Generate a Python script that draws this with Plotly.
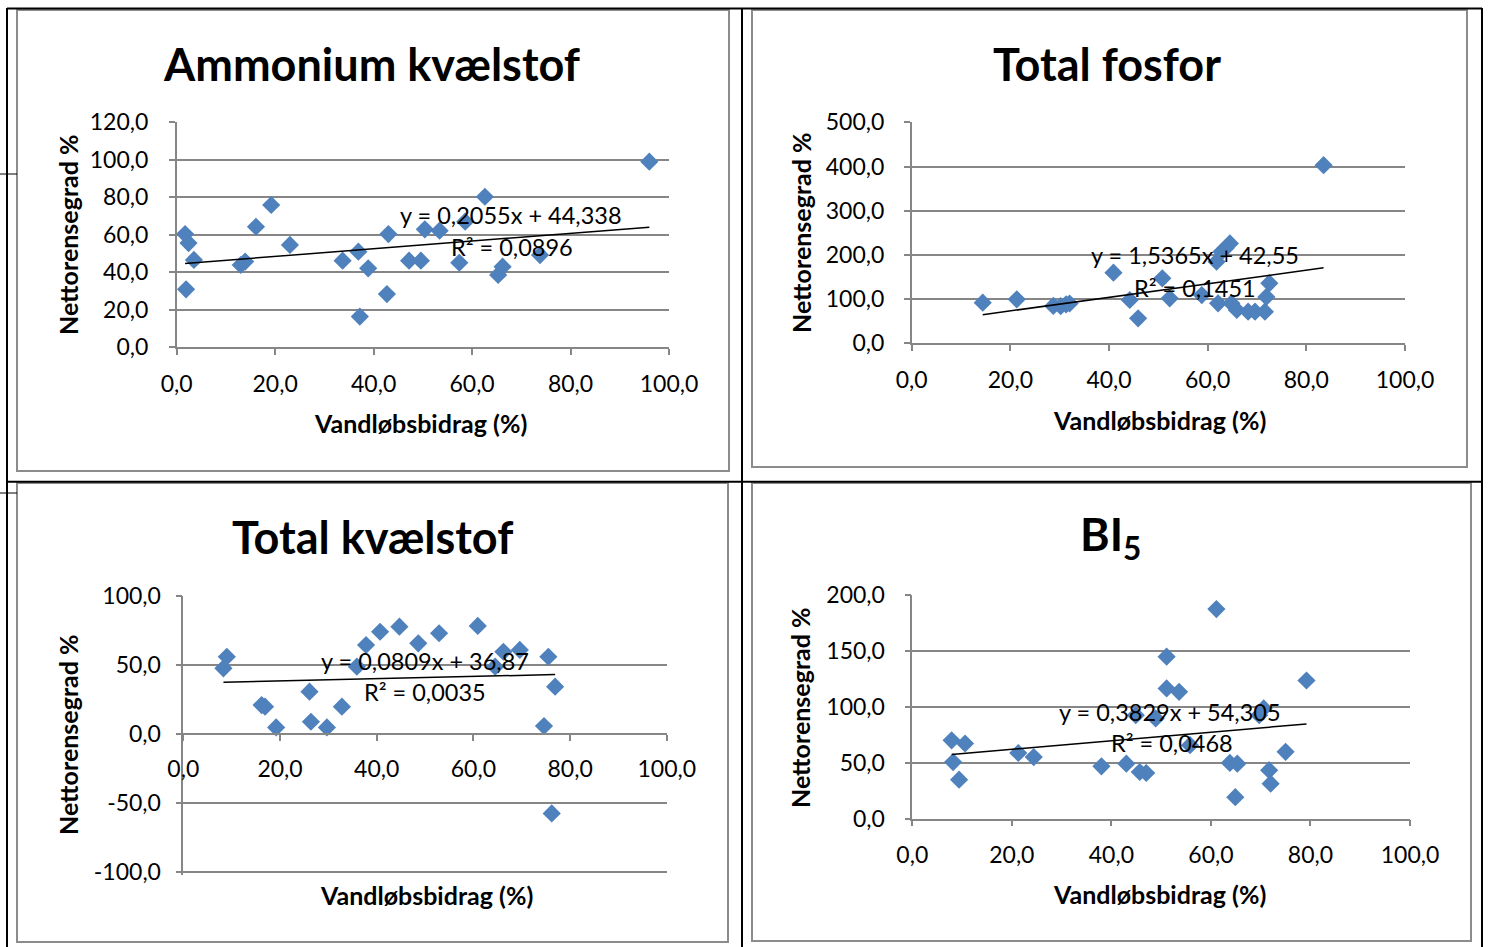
import plotly.graph_objects as go

W, H = 1488, 947


def px(x):
    return x / W


def py(y):
    return 1 - y / H


FONT = "Lato"
BLUE = "#4F81BD"
GRID = "#868686"

# ---------------- data ----------------
amm_x = [1.7, 2.4, 3.5, 1.9, 13.0, 13.9, 16.1, 19.2, 23.0, 33.7, 36.9, 37.2, 38.9,
         42.7, 43.0, 47.2, 49.6, 50.4, 53.4, 57.4, 58.6, 62.6, 65.3, 66.2, 73.8, 96.0]
amm_y = [60.4, 55.6, 46.6, 30.9, 43.9, 45.7, 64.3, 75.9, 54.6, 46.2, 51.0, 16.4, 42.1,
         28.4, 60.4, 46.2, 46.2, 62.9, 62.2, 45.1, 67.0, 80.3, 38.6, 43.0, 49.2, 99.0]
amm_coef = (0.2055, 44.338)
amm_eq = "y = 0,2055x + 44,338"
amm_r2 = "R² = 0,0896"

fos_x = [14.4, 21.3, 28.7, 30.2, 31.3, 32.0, 40.9, 44.2, 45.9, 50.8, 52.3, 58.8,
         61.8, 62.8, 63.6, 64.5, 62.1, 64.8, 65.9, 68.2, 69.6, 71.6, 71.9, 72.5, 83.5]
fos_y = [91.9, 99.5, 84.5, 84.0, 88.0, 90.0, 159.7, 98.0, 56.6, 147.0, 101.8, 109.0,
         184.6, 207.0, 215.0, 226.0, 90.5, 90.5, 75.3, 71.5, 71.5, 71.5, 105.0, 136.0, 403.0]
fos_coef = (1.5365, 42.55)
fos_eq = "y = 1,5365x + 42,55"
fos_r2 = "R² = 0,1451"

tn_x = [8.3, 9.0, 16.2, 16.9, 19.2, 26.1, 26.4, 29.7, 32.8, 35.9, 37.8, 40.7, 44.7,
        48.6, 52.9, 60.9, 64.5, 66.2, 69.6, 74.6, 75.5, 76.9, 76.2]
tn_y = [47.6, 56.0, 21.0, 19.8, 4.8, 30.7, 8.9, 4.8, 19.8, 48.8, 64.5, 74.1, 77.8,
        65.7, 73.0, 78.3, 48.8, 59.6, 60.9, 5.8, 56.0, 34.3, -57.5]
tn_coef = (0.0809, 36.87)
tn_eq = "y = 0,0809x + 36,87"
tn_r2 = "R² = 0,0035"

bi_x = [7.9, 10.6, 8.2, 9.4, 21.3, 24.4, 38.0, 43.0, 45.7, 47.0, 44.9, 48.9, 51.1,
        51.1, 53.6, 55.8, 61.1, 63.8, 65.3, 64.9, 69.7, 70.6, 71.7, 72.0, 75.0, 79.2]
bi_y = [70.0, 67.1, 50.5, 34.7, 58.6, 55.0, 46.7, 49.1, 41.6, 40.7, 92.5, 89.5, 144.8,
        116.4, 113.4, 65.6, 187.4, 49.7, 49.1, 19.1, 92.5, 98.5, 43.2, 31.2, 59.7, 123.5]
bi_coef = (0.3829, 54.305)
bi_eq = "y = 0,3829x + 54,305"
bi_r2 = "R² = 0,0468"

x_ticks = [0, 20, 40, 60, 80, 100]
x_ticktext = ["0,0", "20,0", "40,0", "60,0", "80,0", "100,0"]
amm_yticks = [0, 20, 40, 60, 80, 100, 120]
amm_yticktext = ["0,0", "20,0", "40,0", "60,0", "80,0", "100,0", "120,0"]
fos_yticks = [0, 100, 200, 300, 400, 500]
fos_yticktext = ["0,0", "100,0", "200,0", "300,0", "400,0", "500,0"]
tn_yticks = [-100, -50, 0, 50, 100]
tn_yticktext = ["-100,0", "-50,0", "0,0", "50,0", "100,0"]
bi_yticks = [0, 50, 100, 150, 200]
bi_yticktext = ["0,0", "50,0", "100,0", "150,0", "200,0"]

titles = ["Ammonium kvælstof", "Total fosfor", "Total kvælstof", "BI<sub>5</sub>"]
x_title = "Vandløbsbidrag (%)"
y_title = "Nettorensegrad %"

# ---------------- layout of panels (pixels) ----------------
panels = [
    dict(x=amm_x, y=amm_y, coef=amm_coef, eq=amm_eq, r2=amm_r2,
         yt=amm_yticks, ytt=amm_yticktext, yr=[0, 120], ysoff=16,
         box=(176.7, 669.0, 347.3, 122.3), eqpos=(511, 215, 512, 247),
         title=(371, 64), xt=(420, 423), ytp=(68, 235), cross=None),
    dict(x=fos_x, y=fos_y, coef=fos_coef, eq=fos_eq, r2=fos_r2,
         yt=fos_yticks, ytt=fos_yticktext, yr=[0, 500], ysoff=15,
         box=(911.7, 1405.0, 343.3, 122.3), eqpos=(1195, 255, 1195, 288),
         title=(1107, 64), xt=(1159, 420), ytp=(801, 233), cross=None),
    dict(x=tn_x, y=tn_y, coef=tn_coef, eq=tn_eq, r2=tn_r2,
         yt=tn_yticks, ytt=tn_yticktext, yr=[-102, 100], ysoff=10,
         box=(183.3, 666.8, 874.8, 596.0), eqpos=(425, 661, 425, 692),
         title=(372, 537), xt=(426, 895), ytp=(68, 735), cross=734.0),
    dict(x=bi_x, y=bi_y, coef=bi_coef, eq=bi_eq, r2=bi_r2,
         yt=bi_yticks, ytt=bi_yticktext, yr=[0, 200], ysoff=15,
         box=(912.3, 1410.0, 818.5, 595.0), eqpos=(1170, 712, 1172, 743),
         title=(1110, 537), xt=(1159, 894), ytp=(800, 708), cross=None),
]

fig = go.Figure()
layout = dict(
    width=W, height=H, margin=dict(l=0, r=0, t=0, b=0, pad=0, autoexpand=False),
    paper_bgcolor="white", plot_bgcolor="white", showlegend=False,
    font=dict(family=FONT, color="black"),
)
annotations = []


def label(x, y, text, size, angle=0):
    annotations.append(dict(x=px(x), y=py(y), xref="paper", yref="paper", text=text,
                            xanchor="center", yanchor="middle", textangle=angle,
                            showarrow=False, font=dict(size=size, family=FONT, color="black")))


for i, p in enumerate(panels):
    n = "" if i == 0 else str(i + 1)
    xa, ya = "x" + n, "y" + n
    x0, x1, yb, yt = p["box"]
    fig.add_trace(go.Scatter(
        x=p["x"], y=p["y"], mode="markers", xaxis=xa, yaxis=ya,
        marker=dict(symbol="diamond", size=14, color=BLUE, line=dict(width=0)),
    ))
    a, b = p["coef"]
    lx = [min(p["x"]), max(p["x"])]
    fig.add_trace(go.Scatter(
        x=lx, y=[a * v + b for v in lx], mode="lines", xaxis=xa, yaxis=ya,
        line=dict(color="black", width=1.5),
    ))
    xaxis = dict(
        domain=[px(x0), px(x1)], range=[0, 100], tickvals=x_ticks, ticktext=x_ticktext,
        showgrid=False, zeroline=False, showline=True, linecolor=GRID, linewidth=1.5,
        ticks="outside", ticklen=6, tickcolor=GRID, tickwidth=1.5,
        tickfont=dict(family=FONT, size=23, color="black"), ticklabelstandoff=9,
        anchor=ya, automargin=False,
    )
    if p["cross"] is not None:
        xaxis["anchor"] = "free"
        xaxis["position"] = py(p["cross"])
    yaxis = dict(
        domain=[py(yb), py(yt)], range=p["yr"], tickvals=p["yt"], ticktext=p["ytt"],
        showgrid=True, gridcolor=GRID, gridwidth=1.5, zeroline=False,
        showline=True, linecolor=GRID, linewidth=1.5,
        ticks="outside", ticklen=6, tickcolor=GRID, tickwidth=1.5,
        tickfont=dict(family=FONT, size=23, color="black"), ticklabelstandoff=p["ysoff"],
        anchor=xa, automargin=False,
    )
    layout["xaxis" + n] = xaxis
    layout["yaxis" + n] = yaxis

    ex, ey, rx, ry = p["eqpos"]
    label(ex, ey, p["eq"], 23.5)
    label(rx, ry, p["r2"], 23.5)
    tx, ty = p["title"]
    label(tx, ty, "<b>" + titles[i] + "</b>", 45)
    xx, xy = p["xt"]
    label(xx, xy, "<b>" + x_title + "</b>", 25)
    yx, yy = p["ytp"]
    label(yx, yy, "<b>" + y_title + "</b>", 25, angle=-90)

layout["annotations"] = annotations

shapes = []


def line(x0, y0, x1, y1, color="black", width=2):
    shapes.append(dict(type="line", xref="paper", yref="paper",
                       x0=px(x0), y0=py(y0), x1=px(x1), y1=py(y1),
                       line=dict(color=color, width=width)))


def rect(x0, y0, x1, y1):
    shapes.append(dict(type="rect", xref="paper", yref="paper",
                       x0=px(x0), y0=py(y0), x1=px(x1), y1=py(y1),
                       line=dict(color="#8C8C8C", width=2), fillcolor="rgba(0,0,0,0)"))


# chart frames
rect(17, 10, 729, 471)
rect(752, 10, 1467, 467)
rect(17, 483, 728, 942)
rect(752, 483, 1471, 941)
# table lines
line(7, 8.5, 1482, 8.5)
line(7, 8, 7, 947)
line(742, 8, 742, 947)
line(1482, 8, 1482, 947)
line(7, 481.7, 1482, 481.7)
line(0, 174, 17, 174, width=1)
line(0, 493, 17, 493, width=1)
layout["shapes"] = shapes

fig.update_layout(**layout)
fig.write_html(
    "out.html",
    config={"displayModeBar": False},
    post_script="document.body.style.margin='0';document.body.style.overflow='hidden';",
)
